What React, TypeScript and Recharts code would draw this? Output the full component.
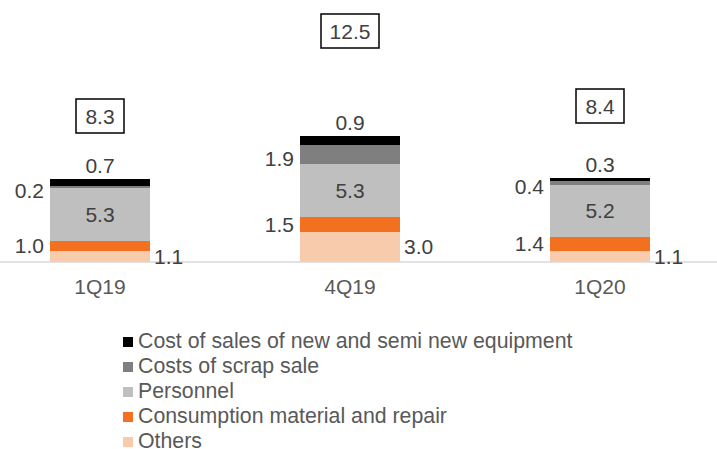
import React from 'react';
import { BarChart, Bar, XAxis, YAxis, LabelList, Legend } from 'recharts';

const categories = ['1Q19', '4Q19', '1Q20'];
const others = [1.1, 3.0, 1.1];
const consumption = [1.0, 1.5, 1.4];
const personnel = [5.3, 5.3, 5.2];
const scrap = [0.2, 1.9, 0.4];
const newEquipment = [0.7, 0.9, 0.3];
const totals = [8.3, 12.5, 8.4];

// how far each total box floats above its bar (px)
const boxLift = [63, 105, 72];

const FONT = '"Liberation Sans", Arial, sans-serif';
const LABEL_COLOR = '#404040';

const series = [
  { key: 'others', name: 'Others', color: '#f8cbad' },
  { key: 'consumption', name: 'Consumption material and repair', color: '#f37021' },
  { key: 'personnel', name: 'Personnel', color: '#bfbfbf' },
  { key: 'scrap', name: 'Costs of scrap sale', color: '#7f7f7f' },
  { key: 'newEquipment', name: 'Cost of sales of new and semi new equipment', color: '#000000' },
];

const data = categories.map((name, i) => ({
  name,
  others: others[i],
  consumption: consumption[i],
  personnel: personnel[i],
  scrap: scrap[i],
  newEquipment: newEquipment[i],
  total: totals[i],
}));

const fmt = (v: any) => Number(v).toFixed(1);

const labelStyle = { fill: LABEL_COLOR, fontSize: 21, fontFamily: FONT };

const TotalBox = (props: any) => {
  const { x, y, width, index } = props;
  const cx = x + width / 2;
  const cy = y - boxLift[index];
  const text = fmt(totals[index]);
  const w = text.length * 10 + 18;
  return (
    <g>
      <rect x={cx - w / 2} y={cy - 17} width={w} height={34} fill="#fff" stroke="#000" strokeWidth={1.5} />
      <text x={cx} y={cy} textAnchor="middle" dominantBaseline="central" style={labelStyle}>
        {text}
      </text>
    </g>
  );
};

const LegendList = () => (
  <div style={{ fontFamily: FONT, fontSize: 21.3, color: '#595959' }}>
    {[...series].reverse().map((s) => (
      <div key={s.key} style={{ display: 'flex', alignItems: 'center', height: 25, whiteSpace: 'nowrap' }}>
        <span style={{ width: 10, height: 10, background: s.color, marginRight: 5, display: 'inline-block' }} />
        <span>{s.name}</span>
      </div>
    ))}
  </div>
);

export default function App() {
  return (
    <div style={{ position: 'absolute', left: 0, top: 0, width: 717, height: 449, overflow: 'hidden', background: '#fff' }}>
      <div style={{ position: 'absolute', left: -25, top: 0 }}>
        <BarChart
          width={750}
          height={449}
          data={data}
          margin={{ top: 62, right: 0, bottom: 157, left: 0 }}
          barSize={100}
        >
          <XAxis
            dataKey="name"
            height={30}
            axisLine={{ stroke: '#d9d9d9', strokeWidth: 1.5 }}
            tickLine={false}
            tickMargin={11}
            tick={{ fill: '#595959', fontSize: 21, fontFamily: FONT }}
          />
          <YAxis hide domain={[0, 20]} />
          <Legend
            layout="vertical"
            verticalAlign="middle"
            align="center"
            wrapperStyle={{ left: 148, top: 329, width: 520 }}
            content={() => <LegendList />}
          />
          <Bar dataKey="others" name="Others" stackId="a" fill="#f8cbad" isAnimationActive={false}>
            <LabelList dataKey="others" position="right" offset={4} formatter={fmt} style={labelStyle} />
          </Bar>
          <Bar dataKey="consumption" name="Consumption material and repair" stackId="a" fill="#f37021" isAnimationActive={false}>
            <LabelList dataKey="consumption" position="left" offset={6} formatter={fmt} style={labelStyle} />
          </Bar>
          <Bar dataKey="personnel" name="Personnel" stackId="a" fill="#bfbfbf" isAnimationActive={false}>
            <LabelList dataKey="personnel" position="center" formatter={fmt} style={labelStyle} />
          </Bar>
          <Bar dataKey="scrap" name="Costs of scrap sale" stackId="a" fill="#7f7f7f" isAnimationActive={false}>
            <LabelList dataKey="scrap" position="left" offset={6} dy={4} formatter={fmt} style={labelStyle} />
          </Bar>
          <Bar dataKey="newEquipment" name="Cost of sales of new and semi new equipment" stackId="a" fill="#000000" isAnimationActive={false}>
            <LabelList dataKey="newEquipment" position="top" offset={6} formatter={fmt} style={labelStyle} />
            <LabelList dataKey="total" content={<TotalBox />} />
          </Bar>
        </BarChart>
      </div>
    </div>
  );
}
